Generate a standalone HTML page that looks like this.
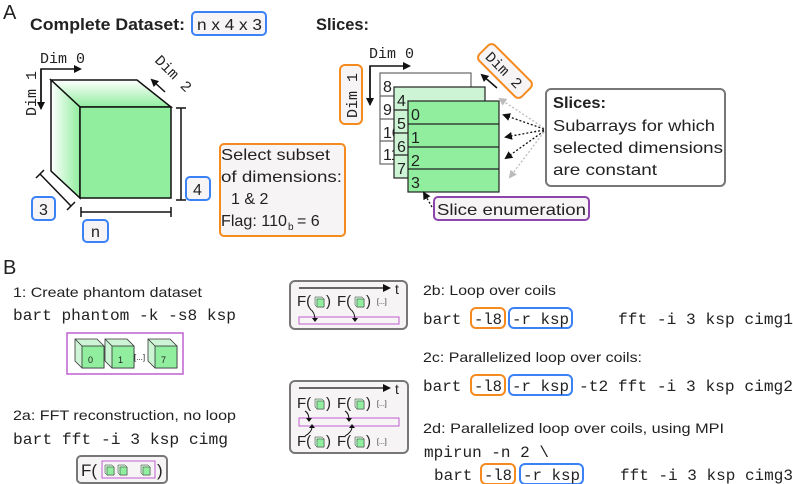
<!DOCTYPE html>
<html><head><meta charset="utf-8"><style>
html,body{margin:0;padding:0;background:#fff}
svg{display:block}
text{font-family:"Liberation Sans",sans-serif;fill:#222}
.m{font-family:"Liberation Mono",monospace}
.s{font-family:"Liberation Sans",sans-serif}
.b{font-family:"Liberation Sans",sans-serif;font-weight:bold}
</style></head><body>
<svg width="793" height="484" viewBox="0 0 793 484" xmlns="http://www.w3.org/2000/svg">
<defs>
<linearGradient id="g1" x1="0" x2="1"><stop offset="0" stop-color="#fff"/><stop offset="1" stop-color="#90ee9e"/></linearGradient>
<linearGradient id="g2" x1="0" y1="0" x2="0" y2="1"><stop offset="0" stop-color="#fff"/><stop offset="1" stop-color="#90ee9e"/></linearGradient>
<marker id="ah" markerWidth="8" markerHeight="8" refX="6" refY="4" orient="auto" markerUnits="userSpaceOnUse"><path d="M0,0 L8,4 L0,8z" fill="#111"/></marker>
<marker id="ag" markerWidth="8" markerHeight="8" refX="6" refY="4" orient="auto" markerUnits="userSpaceOnUse"><path d="M0,0 L8,4 L0,8z" fill="#bbb"/></marker>
<g id="cb"><path d="M0,0 L22,0 L29,7 L29,29 L7,29 L0,22z" fill="#cdf5d5" stroke="#333" stroke-width="0.8"/><rect x="7" y="7" width="22" height="22" fill="#90ee9e" stroke="#333" stroke-width="0.8"/><line x1="0" y1="0" x2="7" y2="7" stroke="#333" stroke-width="0.8"/></g>
<g id="mc"><path d="M0,0 L7,0 L9,2 L9,10 L2,10 L0,8z" fill="#cdf5d5" stroke="#333" stroke-width="0.5"/><rect x="2" y="2" width="7" height="8" fill="#90ee9e" stroke="#333" stroke-width="0.5"/></g>
</defs>

<!-- A -->
<text x="3" y="19" font-size="20" class="s">A</text>
<text x="30" y="30" font-size="17" class="b" textLength="155" lengthAdjust="spacingAndGlyphs">Complete Dataset:</text>
<rect x="192" y="12" width="74" height="23" rx="4" fill="#f7f4f5" stroke="#3b82f6" stroke-width="2"/>
<text x="197" y="30" font-size="16" class="s" textLength="65" lengthAdjust="spacingAndGlyphs">n x 4 x 3</text>
<text x="316" y="30" font-size="17" class="b" textLength="53" lengthAdjust="spacingAndGlyphs">Slices:</text>

<!-- cube -->
<path d="M51,80 L137,80 L171,107 L80,107 Z" fill="url(#g2)" stroke="#111" stroke-width="1.5"/>
<path d="M51,80 L80,107 L80,198 L51,171 Z" fill="url(#g1)" stroke="#111" stroke-width="1.5"/>
<rect x="80" y="107" width="91" height="91" fill="#90ee9e" stroke="#111" stroke-width="1.5"/>
<text x="40" y="63" font-size="15" class="m">Dim 0</text>
<text transform="translate(36,116) rotate(-90)" font-size="15" class="m">Dim 1</text>
<text transform="translate(154,61) rotate(45)" font-size="15" class="m">Dim 2</text>
<path d="M41,109 L41,69 L80,69" fill="none" stroke="#111" stroke-width="1.5" marker-end="url(#ah)"/>
<line x1="41" y1="69" x2="41" y2="108" stroke="#111" stroke-width="1.5" marker-end="url(#ah)"/>
<line x1="165" y1="92" x2="152" y2="80" stroke="#111" stroke-width="1.5" marker-end="url(#ah)"/>
<path d="M181,108 V200 M176,108 H186 M176,200 H186" stroke="#111" stroke-width="1.5" fill="none"/>
<rect x="186" y="177" width="24" height="23" rx="4" fill="#f7f4f5" stroke="#3b82f6" stroke-width="2"/>
<text x="193" y="195" font-size="16" class="s">4</text>
<path d="M40,174 L71,206 M36,178 L44,170 M67,210 L75,202" stroke="#111" stroke-width="1.5" fill="none"/>
<rect x="32" y="197" width="23" height="23" rx="4" fill="#f7f4f5" stroke="#3b82f6" stroke-width="2"/>
<text x="39" y="215" font-size="16" class="s">3</text>
<path d="M81,212 H171 M81,207 V217 M171,207 V217" stroke="#111" stroke-width="1.5" fill="none"/>
<rect x="83" y="220" width="25" height="22" rx="4" fill="#f7f4f5" stroke="#3b82f6" stroke-width="2"/>
<text x="91" y="237" font-size="16" class="s">n</text>

<rect x="220" y="144" width="125" height="92" rx="4" fill="#f7f4f5" stroke="#f58a1f" stroke-width="2"/>
<text x="221" y="160" font-size="16" class="s" textLength="109" lengthAdjust="spacingAndGlyphs">Select subset</text>
<text x="221" y="182" font-size="16" class="s" textLength="121" lengthAdjust="spacingAndGlyphs">of dimensions:</text>
<text x="231" y="204" font-size="16" class="s">1 &amp; 2</text>
<text x="221" y="226" font-size="16" class="s" textLength="66" lengthAdjust="spacingAndGlyphs">Flag: 110</text>
<text x="288" y="230" font-size="10" class="s">b</text>
<text x="297" y="226" font-size="16" class="s">= 6</text>

<!-- slices -->
<text x="369" y="58" font-size="15" class="m">Dim 0</text>
<path d="M370,105 V66 H409" fill="none" stroke="#111" stroke-width="1.5" marker-end="url(#ah)"/>
<line x1="370" y1="66" x2="370" y2="104" stroke="#111" stroke-width="1.5" marker-end="url(#ah)"/>
<rect x="340" y="65" width="22" height="59" rx="5" fill="#f7f4f5" stroke="#f58a1f" stroke-width="2"/>
<text transform="translate(357,118) rotate(-90)" font-size="15" class="m">Dim 1</text>
<g transform="translate(505,71) rotate(45)"><rect x="-30" y="-11" width="60" height="22" rx="5" fill="#f7f4f5" stroke="#f58a1f" stroke-width="2"/><text x="-24" y="5" font-size="15" class="m">Dim 2</text></g>
<line x1="497" y1="88" x2="482" y2="75" stroke="#111" stroke-width="1.5" marker-end="url(#ah)"/>

<rect x="380" y="73" width="91" height="91" fill="#fff" stroke="#666" stroke-width="1.2"/>
<path d="M380,96 H394 M380,119 H394 M380,141 H394" stroke="#666" stroke-width="1.2"/>
<text font-size="16" class="s"><tspan x="383" y="92">8</tspan><tspan x="383" y="115">9</tspan><tspan x="383" y="138">10</tspan><tspan x="383" y="160">11</tspan></text>
<rect x="394" y="87" width="91" height="91" fill="#cdf5d5" stroke="#222" stroke-width="1.2"/>
<path d="M394,110 H408 M394,133 H408 M394,155 H408" stroke="#222" stroke-width="1.2"/>
<text font-size="16" class="s"><tspan x="397" y="106">4</tspan><tspan x="397" y="129">5</tspan><tspan x="397" y="152">6</tspan><tspan x="397" y="174">7</tspan></text>
<rect x="408" y="101" width="91" height="91" fill="#90ee9e" stroke="#222" stroke-width="1.2"/>
<path d="M408,124 H499 M408,147 H499 M408,169 H499" stroke="#222" stroke-width="1.2"/>
<text font-size="16" class="s"><tspan x="411" y="120">0</tspan><tspan x="411" y="143">1</tspan><tspan x="411" y="166">2</tspan><tspan x="411" y="188">3</tspan></text>

<rect x="546" y="89" width="179" height="97" rx="5" fill="#fff" stroke="#777" stroke-width="2"/>
<text x="553" y="108" font-size="16" class="b" textLength="53" lengthAdjust="spacingAndGlyphs">Slices:</text>
<text x="553" y="131" font-size="16" class="s" textLength="162" lengthAdjust="spacingAndGlyphs">Subarrays for which</text>
<text x="553" y="153" font-size="16" class="s" textLength="170" lengthAdjust="spacingAndGlyphs">selected dimensions</text>
<text x="553" y="175" font-size="16" class="s" textLength="104" lengthAdjust="spacingAndGlyphs">are constant</text>
<g stroke-dasharray="2,2" fill="none" stroke-width="1.3">
<line x1="544" y1="129" x2="504" y2="115" stroke="#111" marker-end="url(#ah)"/>
<line x1="544" y1="130" x2="506" y2="137" stroke="#111" marker-end="url(#ah)"/>
<line x1="544" y1="131" x2="506" y2="158" stroke="#111" marker-end="url(#ah)"/>
<line x1="544" y1="128" x2="500" y2="99" stroke="#bbb" marker-end="url(#ag)"/>
<line x1="544" y1="132" x2="510" y2="177" stroke="#bbb" marker-end="url(#ag)"/>
<line x1="432" y1="207" x2="424" y2="193" stroke="#111" marker-end="url(#ah)"/>
</g>
<rect x="434" y="197" width="155" height="23" rx="4" fill="#f7f4f5" stroke="#8e44ad" stroke-width="2"/>
<text x="437" y="215" font-size="16" class="s" textLength="149" lengthAdjust="spacingAndGlyphs">Slice enumeration</text>

<!-- B -->
<text x="3" y="274" font-size="20" class="s">B</text>
<text x="13" y="297" font-size="14" class="s" textLength="189" lengthAdjust="spacingAndGlyphs">1: Create phantom dataset</text>
<text x="13" y="320" font-size="16" class="m" textLength="223" lengthAdjust="spacingAndGlyphs">bart phantom -k -s8 ksp</text>
<rect x="67" y="333" width="116" height="41" fill="#fff" stroke="#c060d0" stroke-width="1.5"/>
<use href="#cb" x="75" y="339"/><use href="#cb" x="105" y="339"/><use href="#cb" x="148" y="339"/>
<text x="88" y="363" font-size="9" class="s">0</text><text x="118" y="363" font-size="9" class="s">1</text><text x="161" y="363" font-size="9" class="s">7</text>
<text x="134" y="360" font-size="8" class="s" fill="#777">[...]</text>

<text x="13" y="420" font-size="14" class="s" textLength="223" lengthAdjust="spacingAndGlyphs">2a: FFT reconstruction, no loop</text>
<text x="13" y="444" font-size="16" class="m" textLength="215" lengthAdjust="spacingAndGlyphs">bart fft -i 3 ksp cimg</text>
<rect x="77" y="456" width="90" height="27" rx="4" fill="#f7f4f5" stroke="#777" stroke-width="2"/>
<text x="81" y="476" font-size="17" font-family="Liberation Serif,serif">F(</text>
<rect x="102" y="461" width="53" height="17" fill="none" stroke="#c060d0" stroke-width="1"/>
<use href="#mc" x="105" y="465"/><use href="#mc" x="118" y="465"/><use href="#mc" x="141" y="465"/>
<text x="157" y="476" font-size="17" font-family="Liberation Serif,serif">)</text>

<!-- timelines -->
<rect x="290" y="281" width="117" height="48" rx="5" fill="#f7f4f5" stroke="#777" stroke-width="2"/>
<line x1="299" y1="288" x2="389" y2="288" stroke="#111" stroke-width="1.2" marker-end="url(#ah)"/>
<text x="395" y="294" font-size="14" class="s">t</text>
<text x="297" y="306" font-size="15" font-family="Liberation Serif,serif">F(</text><use href="#mc" x="315" y="297"/><text x="326" y="306" font-size="15" font-family="Liberation Serif,serif">)</text>
<text x="337" y="306" font-size="15" font-family="Liberation Serif,serif">F(</text><use href="#mc" x="355" y="297"/><text x="366" y="306" font-size="15" font-family="Liberation Serif,serif">)</text>
<text x="377" y="304" font-size="7" class="s">[...]</text>
<rect x="299" y="317" width="100" height="7" fill="none" stroke="#c060d0" stroke-width="1"/>
<path d="M310,309 Q315,312 315,320 M350,309 Q355,312 355,320" fill="none" stroke="#111" stroke-width="1"/>
<path d="M312,318 L318,318 L315,322z M352,318 L358,318 L355,322z" fill="#111"/>

<rect x="290" y="381" width="118" height="72" rx="5" fill="#f7f4f5" stroke="#777" stroke-width="2"/>
<line x1="299" y1="388" x2="389" y2="388" stroke="#111" stroke-width="1.2" marker-end="url(#ah)"/>
<text x="395" y="394" font-size="14" class="s">t</text>
<text x="297" y="408" font-size="15" font-family="Liberation Serif,serif">F(</text><use href="#mc" x="315" y="399"/><text x="326" y="408" font-size="15" font-family="Liberation Serif,serif">)</text>
<text x="337" y="408" font-size="15" font-family="Liberation Serif,serif">F(</text><use href="#mc" x="355" y="399"/><text x="366" y="408" font-size="15" font-family="Liberation Serif,serif">)</text>
<text x="377" y="406" font-size="7" class="s">[...]</text>
<rect x="299" y="418" width="100" height="8" fill="none" stroke="#c060d0" stroke-width="1"/>
<text x="297" y="446" font-size="15" font-family="Liberation Serif,serif">F(</text><use href="#mc" x="315" y="437"/><text x="326" y="446" font-size="15" font-family="Liberation Serif,serif">)</text>
<text x="337" y="446" font-size="15" font-family="Liberation Serif,serif">F(</text><use href="#mc" x="355" y="437"/><text x="366" y="446" font-size="15" font-family="Liberation Serif,serif">)</text>
<text x="377" y="444" font-size="7" class="s">[...]</text>
<path d="M305,411 Q309,413 309,420 M345,411 Q349,413 349,420 M305,436 Q312,432 312,427 M345,436 Q352,432 352,427" fill="none" stroke="#111" stroke-width="1"/>
<path d="M306,418 L312,418 L309,422z M346,418 L352,418 L349,422z M309,428 L315,428 L312,424z M349,428 L355,428 L352,424z" fill="#111"/>

<!-- 2b-2d -->
<text x="423" y="295" font-size="14" class="s" textLength="133" lengthAdjust="spacingAndGlyphs">2b: Loop over coils</text>
<rect x="471" y="308" width="34" height="20" rx="5" fill="none" stroke="#f58a1f" stroke-width="2"/>
<rect x="509" y="308" width="63" height="20" rx="5" fill="none" stroke="#3b82f6" stroke-width="2"/>
<text x="423" y="324" font-size="16" class="m">bart</text>
<text x="474" y="324" font-size="16" class="m" textLength="28" lengthAdjust="spacingAndGlyphs">-l8</text>
<text x="512" y="324" font-size="16" class="m" textLength="57" lengthAdjust="spacingAndGlyphs">-r ksp</text>
<text x="618" y="324" font-size="16" class="m" textLength="175" lengthAdjust="spacingAndGlyphs">fft -i 3 ksp cimg1</text>

<text x="423" y="362" font-size="14" class="s" textLength="219" lengthAdjust="spacingAndGlyphs">2c: Parallelized loop over coils:</text>
<rect x="471" y="375" width="34" height="20" rx="5" fill="none" stroke="#f58a1f" stroke-width="2"/>
<rect x="509" y="375" width="63" height="20" rx="5" fill="none" stroke="#3b82f6" stroke-width="2"/>
<text x="423" y="391" font-size="16" class="m">bart</text>
<text x="474" y="391" font-size="16" class="m" textLength="28" lengthAdjust="spacingAndGlyphs">-l8</text>
<text x="512" y="391" font-size="16" class="m" textLength="57" lengthAdjust="spacingAndGlyphs">-r ksp</text>
<text x="579" y="391" font-size="16" class="m" textLength="214" lengthAdjust="spacingAndGlyphs">-t2 fft -i 3 ksp cimg2</text>

<text x="423" y="433" font-size="14" class="s" textLength="301" lengthAdjust="spacingAndGlyphs">2d: Parallelized loop over coils, using  MPI</text>
<text x="424" y="457" font-size="16" class="m" textLength="125" lengthAdjust="spacingAndGlyphs">mpirun -n 2 \</text>
<rect x="481" y="464" width="34" height="20" rx="5" fill="none" stroke="#f58a1f" stroke-width="2"/>
<rect x="520" y="464" width="63" height="20" rx="5" fill="none" stroke="#3b82f6" stroke-width="2"/>
<text x="434" y="480" font-size="16" class="m">bart</text>
<text x="484" y="480" font-size="16" class="m" textLength="28" lengthAdjust="spacingAndGlyphs">-l8</text>
<text x="523" y="480" font-size="16" class="m" textLength="57" lengthAdjust="spacingAndGlyphs">-r ksp</text>
<text x="620" y="480" font-size="16" class="m" textLength="173" lengthAdjust="spacingAndGlyphs">fft -i 3 ksp cimg3</text>
</svg>
</body></html>
